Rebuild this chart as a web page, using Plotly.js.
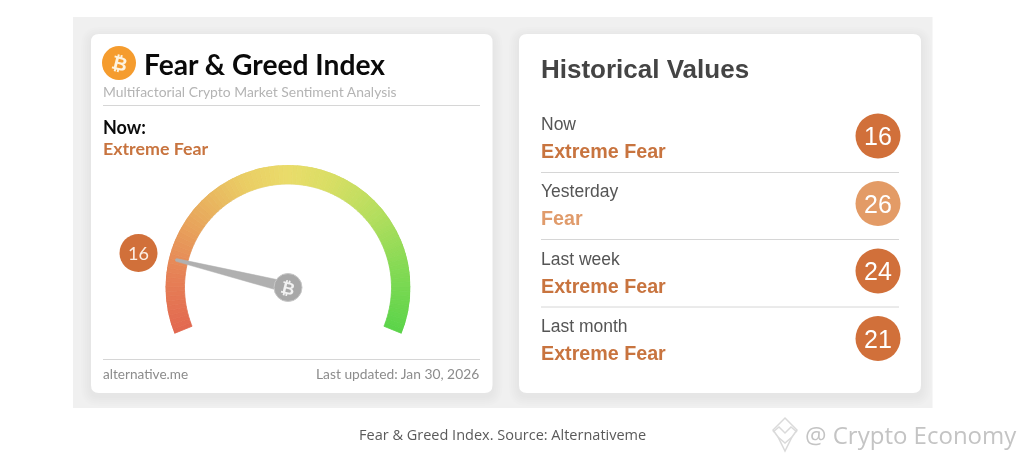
<!DOCTYPE html>
<html>
<head>
<meta charset="utf-8">
<script src="https://cdn.plot.ly/plotly-3.0.1.min.js"></script>
<style>
html,body{margin:0;padding:0;background:#fff;overflow:hidden}
#chart{width:1024px;height:459px;filter:blur(0.5px)}
</style>
</head>
<body>
<div id="chart"></div>
<script>
// Data
const currentValue = 16;
const currentClass = 'Extreme Fear';
const historyLabels = ['Now', 'Yesterday', 'Last week', 'Last month'];
const historyClasses = ['Extreme Fear', 'Fear', 'Extreme Fear', 'Extreme Fear'];
const historyValues = [16, 26, 24, 21];
const classColors = {'Extreme Fear': '#d1703a', 'Fear': '#e39b66'};
const classTextColors = {'Extreme Fear': '#c8743f', 'Fear': '#e09b6b'};
const gaugeStops = [[0,[226,104,80]],[12,[230,128,86]],[25,[232,165,92]],[40,[234,205,100]],[50,[234,220,106]],[60,[216,222,100]],[72,[182,222,94]],[86,[132,218,84]],[100,[92,212,74]]];

// Gauge geometry
const GC = {x: 288, y: 287.5, R: 122.5};
const W = 1024, H = 459;
const sweep = 224, startAngle = 202;
const toTheta = v => v * sweep / 100;

function stopColor(v){
  for (let i = 1; i < gaugeStops.length; i++){
    const [a, ca] = gaugeStops[i-1], [b, cb] = gaugeStops[i];
    if (v <= b){
      const t = (v-a)/(b-a);
      return 'rgb(' + ca.map((c,k)=>Math.round(c+(cb[k]-c)*t)).join(',') + ')';
    }
  }
  return 'rgb(92,212,74)';
}
const segV = Array.from({length: 100}, (_, i) => i + 0.5);

function rr(x0,y0,x1,y1,r){
  return `M${x0+r},${y0} L${x1-r},${y0} Q${x1},${y0} ${x1},${y0+r} L${x1},${y1-r} Q${x1},${y1} ${x1-r},${y1} L${x0+r},${y1} Q${x0},${y1} ${x0},${y1-r} L${x0},${y0+r} Q${x0},${y0} ${x0+r},${y0} Z`;
}
const shapes = [];
shapes.push({type:'rect',xref:'x',yref:'y',x0:73,x1:932.5,y0:17,y1:408,fillcolor:'#f0f0f0',line:{width:0},layer:'below'});
const cards = [[91,34,492.5,393],[519,34,921,393]];
cards.forEach(c=>{
  [10,8,6,4,2].forEach(s=>{
    shapes.push({type:'path',xref:'x',yref:'y',path:rr(c[0]-s,c[1]-s+3,c[2]+s,c[3]+s+3,8+s),fillcolor:'rgba(0,0,0,0.009)',line:{width:0},layer:'below'});
  });
  shapes.push({type:'path',xref:'x',yref:'y',path:rr(c[0],c[1],c[2],c[3],8),fillcolor:'#ffffff',line:{width:0},layer:'below'});
});
[[103,480,105.5],[103,480,359.5],[541,899,172.5],[541,899,239.5],[541,899,307]].forEach(l=>{
  shapes.push({type:'line',xref:'x',yref:'y',x0:l[0],x1:l[1],y0:l[2],y1:l[2],line:{color:'#d6d6d6',width:1},layer:'below'});
});
// Watermark logo outline
['M785,418 L797,430 L792,437 L785,451 L778,437 L773,430 Z','M773,432 L779,427 L785,433 L791,427 L797,432','M778,437 L785,443 L792,437'].forEach(p=>{
  shapes.push({type:'path',xref:'x',yref:'y',path:p,line:{color:'#dadada',width:1.5},layer:'above'});
});

const ann = (x,y,text,size,color,family,opts={}) => Object.assign({
  x,y,xref:'x',yref:'y',text,showarrow:false,xanchor:'left',yanchor:'middle',borderpad:0,
  font:{size,color,family}
},opts);
const LATO='Lato, sans-serif', LIB='"Liberation Sans", Arial, sans-serif', OS='"Open Sans", sans-serif';

const annotations = [
  ann(143,64,'<b>Fear &amp; Greed Index</b>',28.2,'#0a0a0a',LATO),
  ann(102,91,'Multifactorial Crypto Market Sentiment Analysis',13.9,'#b4b4b4',LATO),
  ann(102,127,'<b>Now:</b>',18,'#0a0a0a',LATO),
  ann(102,147.5,'<b>'+currentClass+'</b>',17.8,classTextColors[currentClass],LATO),
  ann(102,373.5,'alternative.me',13.6,'#8c8c8c',LATO),
  ann(480,373.5,'Last updated: Jan 30, 2026',13.8,'#8c8c8c',LATO,{xanchor:'right'}),
  ann(540,69,'<b>Historical Values</b>',26,'#444444',LIB),
  ann(119,63,'<b>₿</b>',19,'#fdf3e0',LIB,{xanchor:'center',textangle:14}),
  ann(288,288,'<b>₿</b>',17,'#f2f2f2',LIB,{xanchor:'center',textangle:14}),
  ann(358,434,'Fear &amp; Greed Index. Source: Alternativeme',14.5,'#5a5a5a',OS),
  ann(804,434,'@ Crypto Economy',24,'#c4c4c4',OS),
  ann(138.5,253,String(currentValue),18,'#fbeee3',LATO,{xanchor:'center'})
];
historyLabels.forEach((lab,i)=>{
  const top = 124 + i*67.4;
  annotations.push(ann(540,top,lab,17.5,'#555555',LIB));
  annotations.push(ann(540,top+27,'<b>'+historyClasses[i]+'</b>',19.7,classTextColors[historyClasses[i]],LIB));
  annotations.push(ann(878,136+i*67.5,String(historyValues[i]),25,'#ffffff',LIB,{xanchor:'center'}));
});

const traces = [];
// Bitcoin logo disc
traces.push({type:'scatter',mode:'markers',x:[119],y:[63],marker:{size:34,color:'#f59c2e'},hoverinfo:'skip'});
// Current value bubble
traces.push({type:'scatter',mode:'markers',x:[138.5],y:[253],marker:{size:38,color:classColors[currentClass]},hoverinfo:'skip'});
// History bubbles
traces.push({type:'scatter',mode:'markers',x:historyValues.map(()=>878),y:historyValues.map((_,i)=>136+i*67.5),
  marker:{size:45,color:historyClasses.map(c=>classColors[c])},hoverinfo:'skip'});
// Gauge soft shadow
traces.push({type:'barpolar',subplot:'polar',r:segV.map(()=>17.5),base:segV.map(()=>84),theta:segV.map(toTheta),
  width:segV.map(()=>sweep/100),marker:{color:'rgba(0,0,0,0.05)',line:{width:0}},hoverinfo:'skip'});
// Gauge arc
traces.push({type:'barpolar',subplot:'polar',r:segV.map(()=>15.5),base:segV.map(()=>84.5),theta:segV.map(toTheta),
  width:segV.map(()=>sweep/100),marker:{color:segV.map(stopColor),line:{width:0.8,color:segV.map(stopColor)}},hoverinfo:'skip'});
// Needle
const t = toTheta(currentValue);
traces.push({type:'scatterpolar',subplot:'polar2',mode:'lines',r:[4.5,94,95,94,4.5],theta:[t-90,t-0.7,t,t+0.7,t+90],fill:'toself',fillcolor:'#b0b0b0',
  line:{color:'#b0b0b0',width:0.5},hoverinfo:'skip'});
// Hub
traces.push({type:'scatterpolar',subplot:'polar2',mode:'markers',r:[0],theta:[0],marker:{size:28,color:'#a8a8a8',line:{width:1,color:'#c8c8c8'}},hoverinfo:'skip'});

const polarBase = () => ({
  domain:{x:[(GC.x-GC.R)/W,(GC.x+GC.R)/W],y:[1-(GC.y+GC.R)/H,1-(GC.y-GC.R)/H]},
  bgcolor:'rgba(0,0,0,0)',
  radialaxis:{range:[0,100],visible:false},
  angularaxis:{visible:false,rotation:startAngle,direction:'clockwise',thetaunit:'degrees'}
});
const layout = {
  width:W,height:H,margin:{l:0,r:0,t:0,b:0},paper_bgcolor:'#ffffff',plot_bgcolor:'rgba(0,0,0,0)',showlegend:false,
  xaxis:{range:[0,W],visible:false,fixedrange:true},
  yaxis:{range:[H,0],visible:false,fixedrange:true},
  polar:polarBase(),
  polar2:polarBase(),
  shapes,annotations
};
Plotly.newPlot('chart',traces,layout,{staticPlot:true,displayModeBar:false});
</script>
</body>
</html>
